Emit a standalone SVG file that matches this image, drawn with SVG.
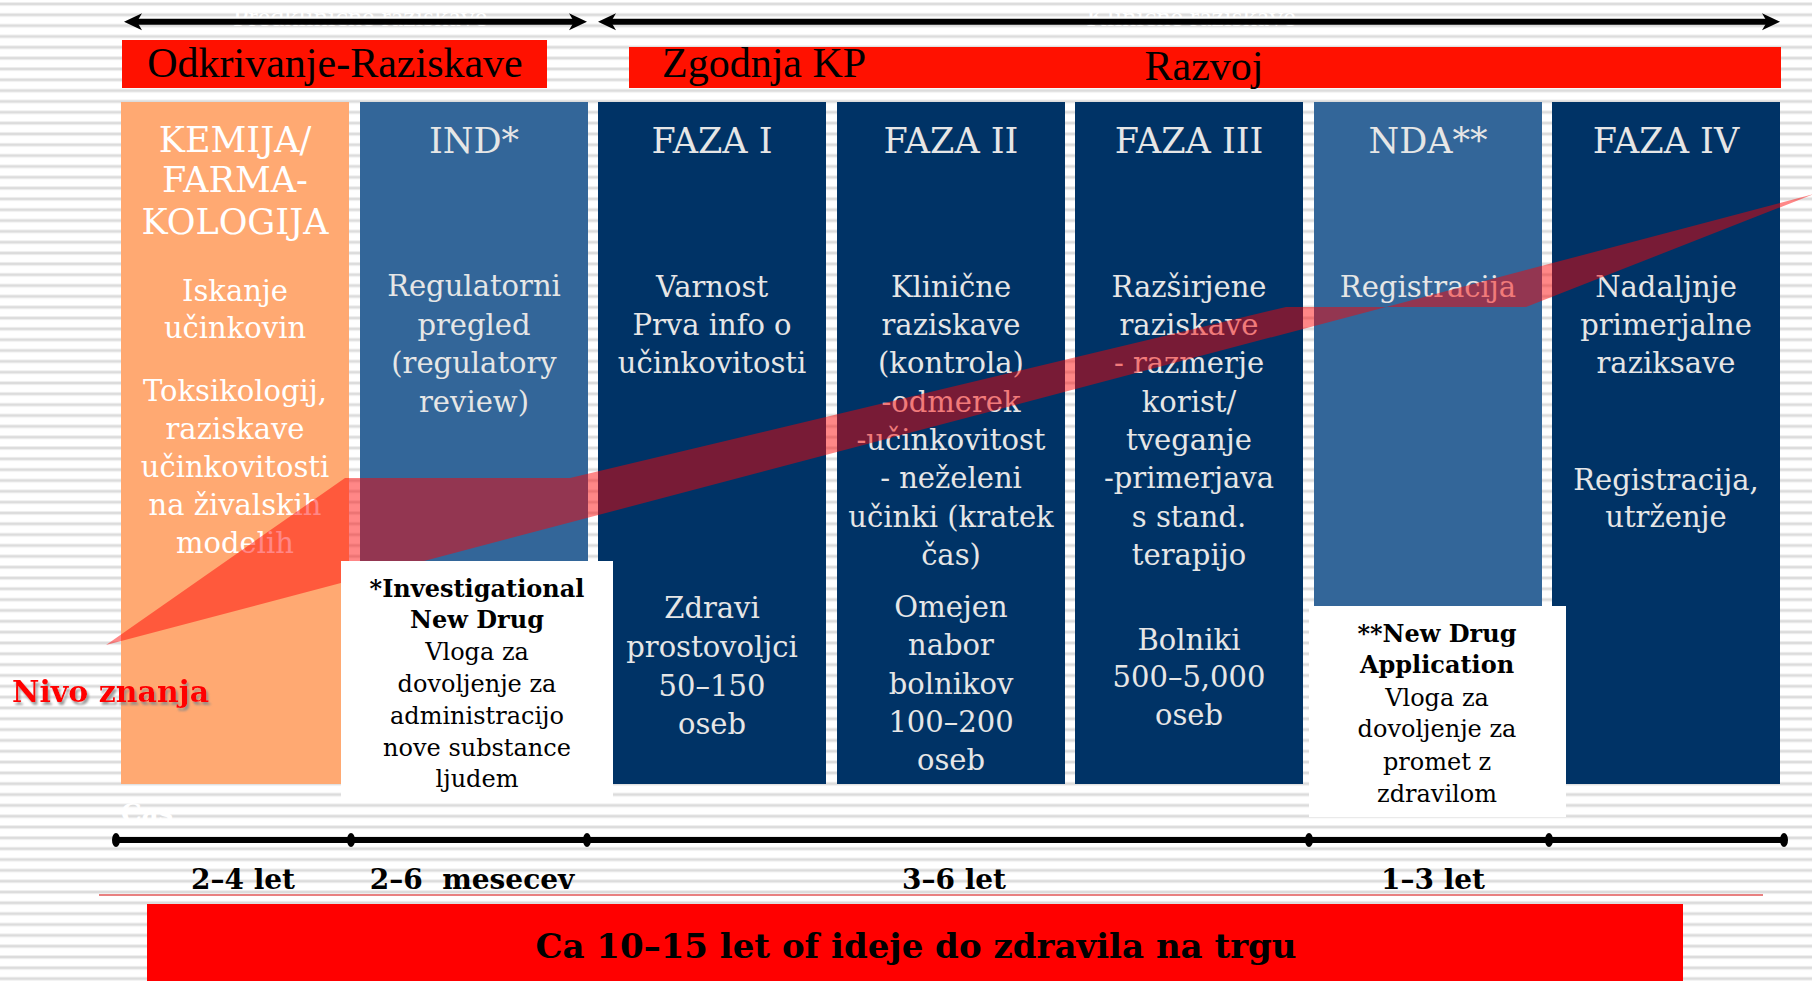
<svg xmlns="http://www.w3.org/2000/svg" width="1812" height="981" viewBox="0 0 1812 981">
<defs>
<pattern id="stripes" width="40" height="10.83" patternUnits="userSpaceOnUse" y="2">
<rect width="40" height="10.83" fill="#ffffff"/>
<rect y="0" width="40" height="1" fill="#eeeeee"/>
<rect y="1" width="40" height="2" fill="#dcdcdc"/>
<rect y="3" width="40" height="1" fill="#eeeeee"/>
</pattern>
<marker id="arrowHead" markerUnits="userSpaceOnUse" viewBox="0 0 18 18" markerWidth="18" markerHeight="18" refX="8" refY="9" orient="auto-start-reverse">
<path d="M18,9 L0,0.5 L5,9 L0,17.5 Z" fill="#000"/>
</marker>
<marker id="dot" markerUnits="userSpaceOnUse" viewBox="-6 -8 12 16" markerWidth="12" markerHeight="16" refX="0" refY="0" orient="0">
<ellipse cx="0" cy="0" rx="4" ry="7" fill="#000"/>
</marker>
<filter id="shadow" x="-10%" y="-20%" width="130%" height="160%">
<feDropShadow dx="2" dy="3" stdDeviation="1.2" flood-color="#888888" flood-opacity="0.8"/>
</filter>
<style>
.hdr{font-family:"DejaVu Serif",serif;font-size:35px;text-anchor:middle;fill:#e6e6e6}
.body{font-family:"DejaVu Serif",serif;font-size:29px;text-anchor:middle;fill:#e6e6e6}
.w{fill:#ffffff}
.box{font-family:"DejaVu Serif",serif;font-size:24px;text-anchor:middle;fill:#000}
.bold{font-weight:bold}
.top{font-family:"Liberation Serif",serif;font-size:42px;fill:#000}
.faint{font-family:"Liberation Serif",serif;font-size:28px;fill:#ffffff;text-anchor:middle}
.tl{font-family:"DejaVu Serif",serif;font-size:28px;font-weight:bold;text-anchor:middle;fill:#000}
.navy{fill:#003366}
.steel{fill:#336699}
</style>
</defs>

<rect width="1812" height="981" fill="url(#stripes)"/>

<text class="faint" x="360" y="26">Predklinične raziskave</text>
<text class="faint" x="1191" y="26">Klinične raziskave</text>

<g id="connectors">
<line x1="134" y1="21.7" x2="577" y2="21.7" stroke="#000" stroke-width="6" marker-start="url(#arrowHead)" marker-end="url(#arrowHead)"/>
<line x1="608" y1="21.7" x2="1770" y2="21.7" stroke="#000" stroke-width="6" marker-start="url(#arrowHead)" marker-end="url(#arrowHead)"/>
</g>

<g id="label-odkrivanje">
<rect x="122" y="40" width="425" height="48" fill="#ff1100"/>
<text class="top" x="335" y="77" text-anchor="middle">Odkrivanje-Raziskave</text>
</g>
<g id="label-razvoj">
<rect x="629" y="47" width="1152" height="41" fill="#ff1100"/>
<text class="top" x="662" y="77">Zgodnja KP</text>
<text class="top" x="1204" y="80" text-anchor="middle">Razvoj</text>
</g>

<g id="col-kemija">
<rect x="121" y="102" width="228" height="682" fill="#ffa972"/>
<text class="hdr w" x="235" y="152">KEMIJA/</text>
<text class="hdr w" x="235" y="192">FARMA-</text>
<text class="hdr w" x="235" y="234">KOLOGIJA</text>
<text class="body w" x="235" y="301">Iskanje</text>
<text class="body w" x="235" y="338">učinkovin</text>
<text class="body w" x="235" y="401">Toksikologij,</text>
<text class="body w" x="235" y="439">raziskave</text>
<text class="body w" x="235" y="477">učinkovitosti</text>
<text class="body w" x="235" y="515">na živalskih</text>
<text class="body w" x="235" y="553">modelih</text>
</g>

<g id="col-ind">
<rect class="steel" x="360" y="102" width="228" height="682"/>
<text class="hdr" x="474" y="153">IND*</text>
<text class="body" x="474" y="296">Regulatorni</text>
<text class="body" x="474" y="335">pregled</text>
<text class="body" x="474" y="373">(regulatory</text>
<text class="body" x="474" y="412">review)</text>
</g>

<g id="col-faza1">
<rect class="navy" x="598" y="102" width="228" height="682"/>
<text class="hdr" x="712" y="153">FAZA I</text>
<text class="body" x="712" y="297">Varnost</text>
<text class="body" x="712" y="335">Prva info o</text>
<text class="body" x="712" y="373">učinkovitosti</text>
<text class="body" x="712" y="618">Zdravi</text>
<text class="body" x="712" y="657">prostovoljci</text>
<text class="body" x="712" y="696">50–150</text>
<text class="body" x="712" y="734">oseb</text>
</g>

<g id="col-faza2">
<rect class="navy" x="837" y="102" width="228" height="682"/>
<text class="hdr" x="951" y="153">FAZA II</text>
<text class="body" x="951" y="297">Klinične</text>
<text class="body" x="951" y="335">raziskave</text>
<text class="body" x="951" y="373">(kontrola)</text>
<text class="body" x="951" y="412">-odmerek</text>
<text class="body" x="951" y="450">-učinkovitost</text>
<text class="body" x="951" y="488">- neželeni</text>
<text class="body" x="951" y="527">učinki (kratek</text>
<text class="body" x="951" y="565">čas)</text>
<text class="body" x="951" y="617">Omejen</text>
<text class="body" x="951" y="655">nabor</text>
<text class="body" x="951" y="694">bolnikov</text>
<text class="body" x="951" y="732">100–200</text>
<text class="body" x="951" y="770">oseb</text>
</g>

<g id="col-faza3">
<rect class="navy" x="1075" y="102" width="228" height="682"/>
<text class="hdr" x="1189" y="153">FAZA III</text>
<text class="body" x="1189" y="297">Razširjene</text>
<text class="body" x="1189" y="335">raziskave</text>
<text class="body" x="1189" y="373">- razmerje</text>
<text class="body" x="1189" y="412">korist/</text>
<text class="body" x="1189" y="450">tveganje</text>
<text class="body" x="1189" y="488">-primerjava</text>
<text class="body" x="1189" y="527">s stand.</text>
<text class="body" x="1189" y="565">terapijo</text>
<text class="body" x="1189" y="650">Bolniki</text>
<text class="body" x="1189" y="687">500–5,000</text>
<text class="body" x="1189" y="725">oseb</text>
</g>

<g id="col-nda">
<rect class="steel" x="1314" y="102" width="228" height="504"/>
<text class="hdr" x="1428" y="153">NDA**</text>
<text class="body" x="1428" y="297">Registracija</text>
</g>

<g id="col-faza4">
<rect class="navy" x="1552" y="102" width="228" height="682"/>
<text class="hdr" x="1666" y="153">FAZA IV</text>
<text class="body" x="1666" y="297">Nadaljnje</text>
<text class="body" x="1666" y="335">primerjalne</text>
<text class="body" x="1666" y="373">raziksave</text>
<text class="body" x="1666" y="490">Registracija,</text>
<text class="body" x="1666" y="527">utrženje</text>
</g>

<polygon id="knowledge-band" points="106,645 345,478 570,478 1286,307 1526,307 1814,194" fill="#ff0000" fill-opacity="0.47"/>

<g id="note-ind">
<rect x="341" y="561" width="272" height="242" fill="#ffffff"/>
<text class="box bold" x="477" y="597">*Investigational</text>
<text class="box bold" x="477" y="628">New Drug</text>
<text class="box" x="477" y="660">Vloga za</text>
<text class="box" x="477" y="692">dovoljenje za</text>
<text class="box" x="477" y="724">administracijo</text>
<text class="box" x="477" y="756">nove substance</text>
<text class="box" x="477" y="787">ljudem</text>
</g>

<g id="note-nda">
<rect x="1309" y="606" width="257" height="211" fill="#ffffff"/>
<text class="box bold" x="1437" y="642">**New Drug</text>
<text class="box bold" x="1437" y="673">Application</text>
<text class="box" x="1437" y="706">Vloga za</text>
<text class="box" x="1437" y="737">dovoljenje za</text>
<text class="box" x="1437" y="770">promet z</text>
<text class="box" x="1437" y="802">zdravilom</text>
</g>

<text x="12" y="702" font-family="DejaVu Serif, serif" font-size="30" font-weight="bold" fill="#ff0000" filter="url(#shadow)">Nivo znanja</text>
<text x="121" y="822" font-family="DejaVu Serif, serif" font-size="26" font-weight="bold" fill="#ffffff">Čas</text>

<g id="timeline">
<polyline points="116,840 351,840 587,840 1309,840 1549,840 1784,840" fill="none" stroke="#000" stroke-width="6" marker-start="url(#dot)" marker-mid="url(#dot)" marker-end="url(#dot)"/>
</g>
<text class="tl" x="243" y="889">2–4 let</text>
<text class="tl" x="472" y="889" xml:space="preserve">2–6  mesecev</text>
<text class="tl" x="954" y="889">3–6 let</text>
<text class="tl" x="1433" y="889">1–3 let</text>
<line x1="99" y1="895" x2="1763" y2="895" stroke="#e88080" stroke-width="2"/>

<g id="total-duration">
<rect x="147" y="904" width="1536" height="77" fill="#ff0000"/>
<text class="tl" x="916" y="958" style="font-size:34px">Ca 10–15 let of ideje do zdravila na trgu</text>
</g>
</svg>
